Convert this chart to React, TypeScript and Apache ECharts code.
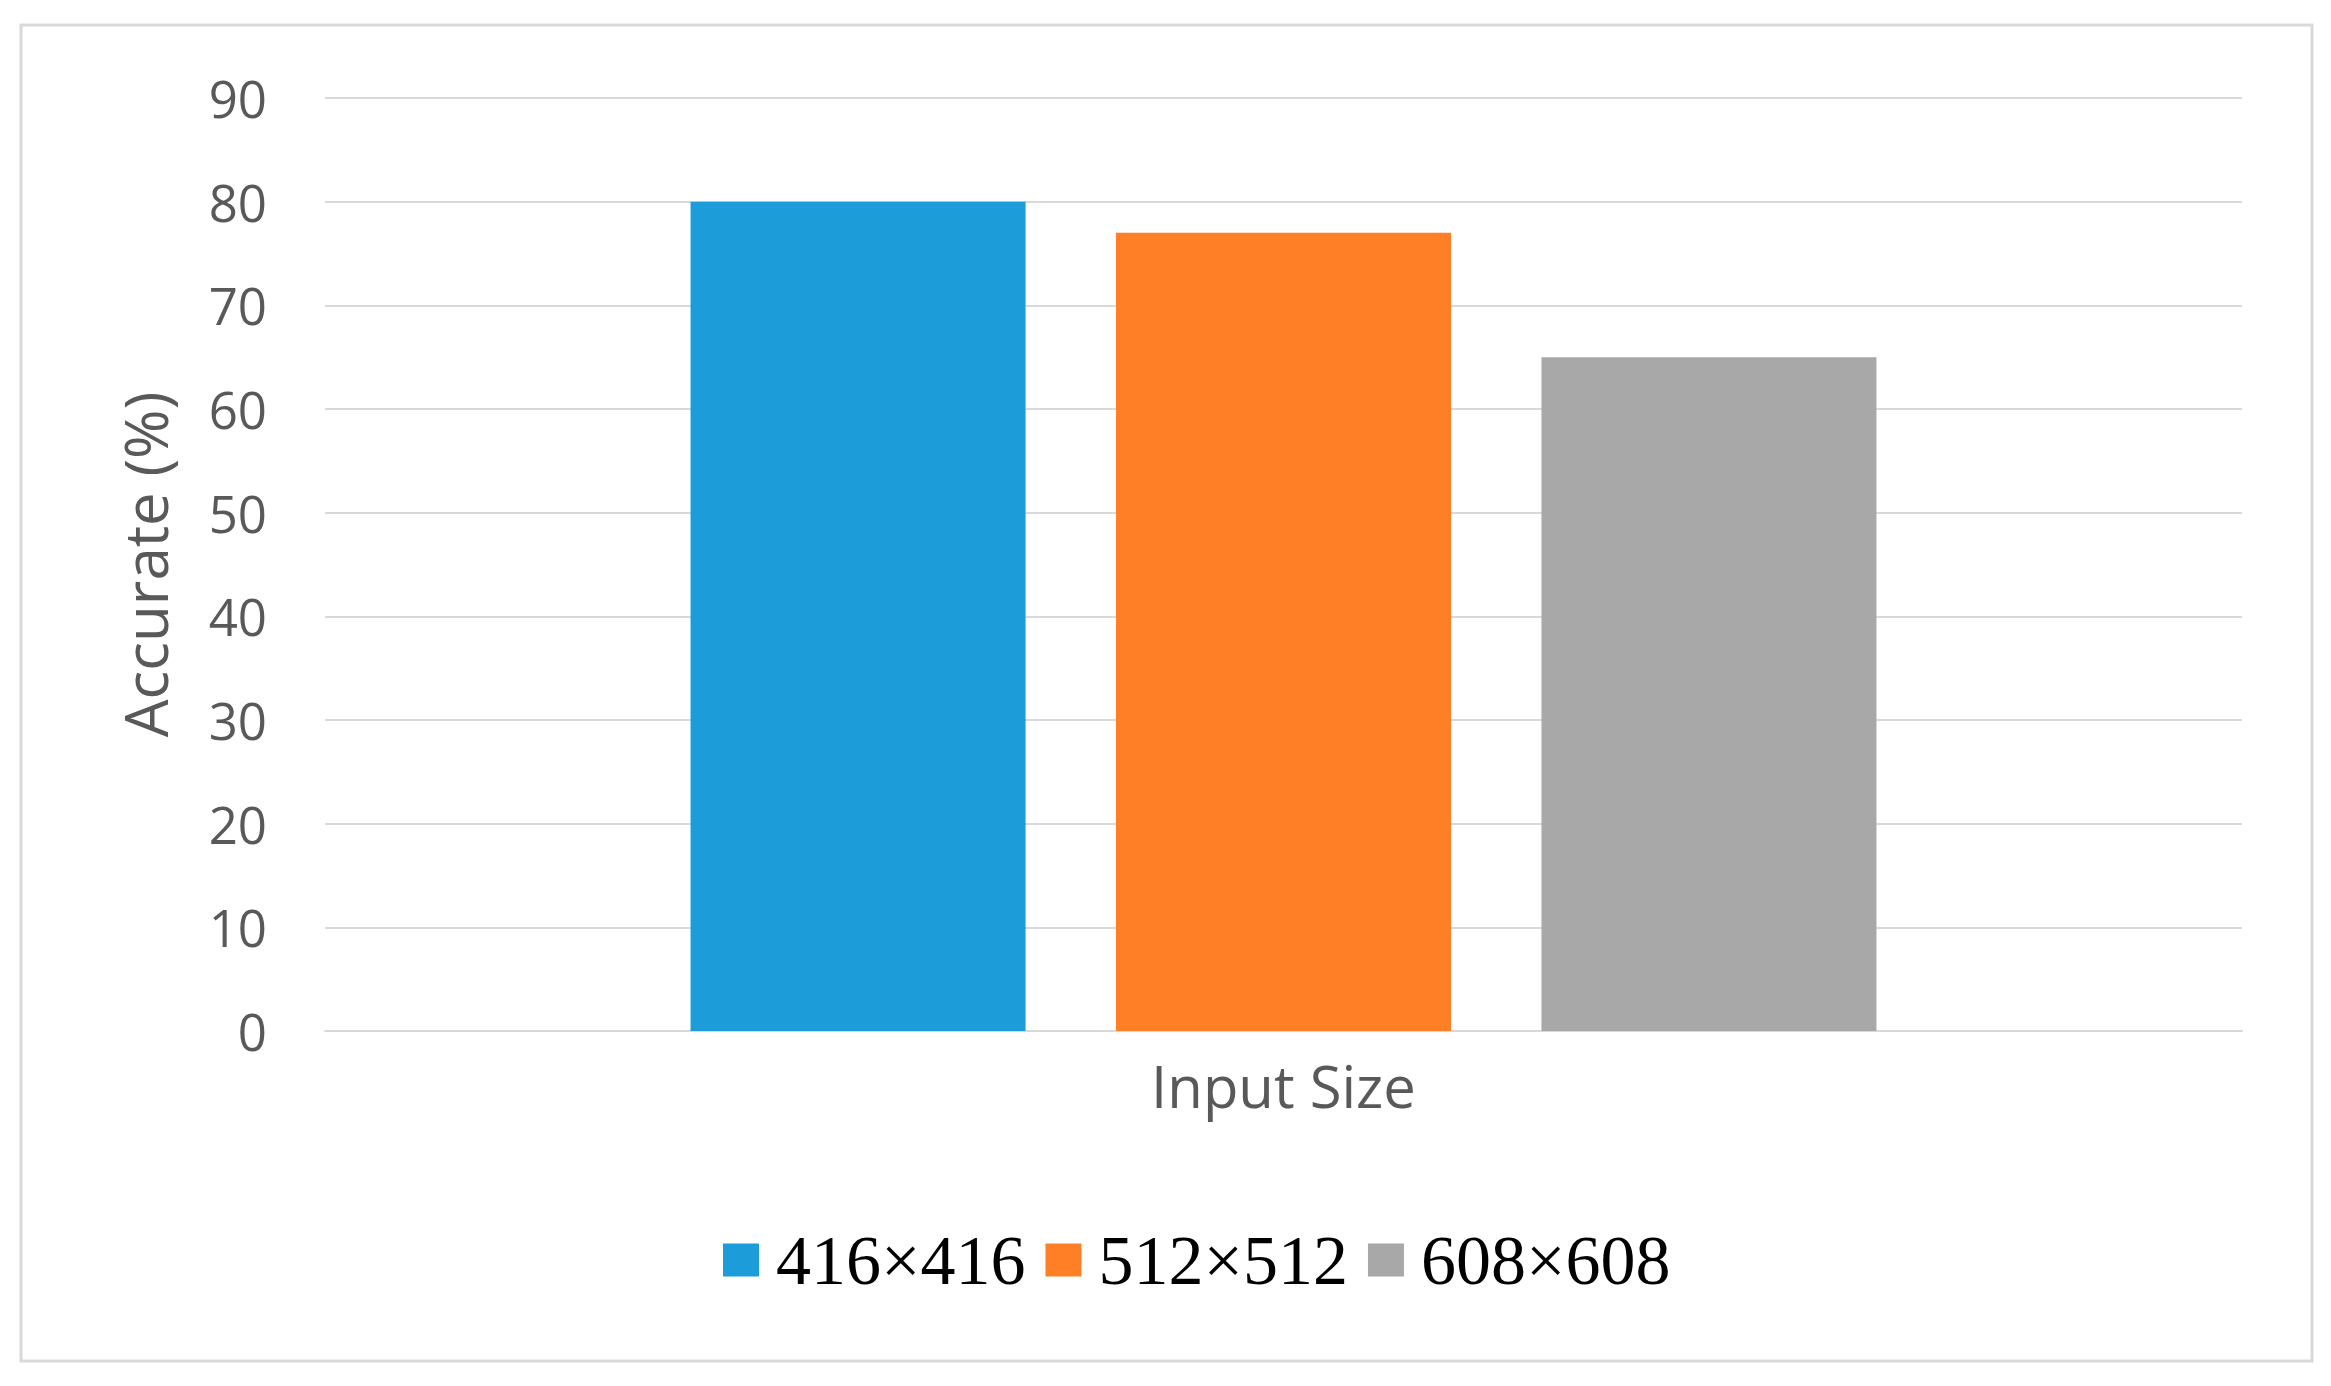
import React, { useEffect, useRef } from "react";
import * as echarts from "echarts";

const categories = ["Input Size"];
const seriesNames = ["416×416", "512×512", "608×608"];
const seriesValues = [[80], [77], [65]];
const seriesColors = ["#1C9CD8", "#FF7F27", "#A8A8A8"];
const yTicks = { min: 0, max: 90, interval: 10 };

export default function App() {
  const ref = useRef<HTMLDivElement>(null);
  useEffect(() => {
    if (!ref.current) return;
    const chart = echarts.init(ref.current, undefined, { renderer: "svg" });
    chart.setOption({
      animation: false,
      backgroundColor: "#ffffff",
      graphic: [
        {
          type: "rect",
          shape: { x: 21, y: 25, width: 2291, height: 1336 },
          style: { fill: "none", stroke: "#D9D9D9", lineWidth: 3 },
          silent: true,
        },
      ],
      grid: { left: 325, right: 89, top: 98, bottom: 355, containLabel: false },
      legend: {
        left: 718,
        top: 1220,
        itemWidth: 36,
        itemHeight: 33,
        itemGap: 20,
        icon: "rect",
        textStyle: {
          fontFamily: "Liberation Serif",
          fontSize: 70,
          color: "#000000",
          padding: [0, 0, 0, 12],
        },
        data: seriesNames,
      },
      xAxis: {
        type: "category",
        data: categories,
        axisTick: { show: false },
        axisLine: { show: true, lineStyle: { color: "#D9D9D9", width: 2 } },
        axisLabel: {
          fontFamily: "Open Sans",
          fontSize: 58,
          color: "#595959",
          margin: 25,
        },
      },
      yAxis: {
        type: "value",
        min: yTicks.min,
        max: yTicks.max,
        interval: yTicks.interval,
        name: "Accurate (%)",
        nameLocation: "middle",
        nameRotate: 90,
        nameGap: 150,
        nameTextStyle: {
          fontFamily: "Open Sans",
          fontSize: 60,
          color: "#595959",
        },
        axisLine: { show: false },
        axisTick: { show: false },
        axisLabel: {
          fontFamily: "Open Sans",
          fontSize: 51,
          color: "#595959",
          margin: 58,
        },
        splitLine: { lineStyle: { color: "#D9D9D9", width: 2 } },
      },
      series: seriesNames.map((name, i) => ({
        name,
        type: "bar",
        data: seriesValues[i],
        barWidth: 335,
        barGap: "27%",
        itemStyle: { color: seriesColors[i] },
      })),
    });
    return () => chart.dispose();
  }, []);
  return (
    <div
      ref={ref}
      style={{ position: "fixed", left: 0, top: 0, width: 2331, height: 1386 }}
    />
  );
}
